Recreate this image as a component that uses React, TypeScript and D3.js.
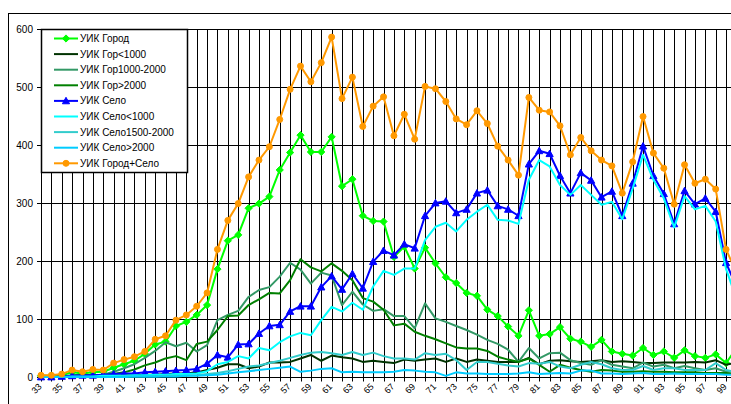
import React from "react";
import * as d3 from "d3";

const categories = [33,34,35,36,37,38,39,40,41,42,43,44,45,46,47,48,49,50,51,52,53,54,55,56,57,58,59,60,61,62,63,64,65,66,67,68,69,70,71,72,73,74,75,76,77,78,79,80,81,82,83,84,85,86,87,88,89,90,91,92,93,94,95,96,97,98,99,100];
const tickLabels = ["33","35","37","39","41","43","45","47","49","51","53","55","57","59","61","63","65","67","69","71","73","75","77","79","81","83","85","87","89","91","93","95","97","99"];
const yTicks = [0,100,200,300,400,500,600];

const gorod = [2,2,3,8,6,8,9,16,22,28,40,56,61,88,95,107,124,186,235,245,291,299,311,357,387,417,388,388,414,329,341,278,269,268,207,225,187,223,196,172,162,145,140,116,105,87,71,115,71,74,86,66,61,52,64,44,40,37,50,38,44,33,46,36,33,39,24,50];
const gor1000 = [0,0,0,1,2,1,2,2,3,3,4,4,5,6,6,8,12,16,22,22,15,18,25,25,26,32,38,28,37,34,32,26,28,26,24,30,28,30,32,26,32,26,30,28,26,26,26,33,22,28,29,27,26,27,29,26,27,26,24,24,25,25,25,26,25,29,21,25];
const gor1000_2000 = [0,0,1,3,4,3,4,9,15,22,33,45,60,53,59,44,55,98,107,114,138,150,155,173,197,185,161,180,175,124,147,125,114,117,105,105,84,127,101,95,88,81,73,64,57,47,26,50,32,41,42,29,24,21,29,21,18,15,25,18,21,15,19,15,12,15,9,10];
const gor2000 = [0,0,0,2,3,2,3,5,8,13,20,25,32,36,29,57,61,81,105,106,124,134,145,144,167,203,189,182,196,183,167,136,130,116,89,92,78,71,65,58,51,49,49,45,35,30,26,32,21,9,21,16,12,9,12,11,9,9,10,9,9,8,8,8,7,7,7,5];
const selo = [0,0,1,2,3,3,4,5,6,6,8,9,10,11,12,14,23,38,34,56,57,75,88,90,113,122,122,155,174,151,178,153,199,218,210,229,222,278,300,303,283,289,317,322,295,289,278,367,390,385,347,317,352,339,310,320,278,334,398,347,316,264,321,298,308,285,197,155];
const selo1000 = [0,0,0,1,1,1,2,2,2,3,3,4,4,5,5,6,10,22,26,36,32,50,46,60,70,76,72,98,121,113,128,116,156,183,176,187,187,236,259,266,251,271,285,297,271,270,264,340,374,363,331,314,331,314,297,302,272,325,383,340,308,258,312,289,295,268,186,135];
const selo1500_2000 = [0,0,0,0,0,0,0,0,1,1,1,1,2,2,2,3,5,7,10,14,18,20,24,28,33,38,42,43,41,38,43,38,42,36,32,32,30,41,38,40,29,12,26,26,23,20,18,24,23,26,18,15,21,26,22,15,12,12,19,12,15,15,12,12,12,24,12,8];
const selo2000 = [0,0,0,0,0,0,0,0,0,1,1,1,1,1,2,2,3,4,6,8,10,12,14,16,18,9,11,14,15,8,9,8,8,8,9,12,11,9,8,2,8,6,6,5,5,5,6,8,5,6,7,6,11,11,6,6,5,6,7,5,5,6,5,5,5,5,4,4];
const gorodSelo = [3,3,5,12,9,13,12,24,30,35,44,65,71,98,107,122,145,220,270,299,345,374,397,444,496,536,509,542,586,480,517,432,467,483,416,453,410,501,497,475,445,435,459,437,398,374,348,482,460,457,433,383,413,390,374,364,317,371,449,386,360,298,366,334,341,324,220,180];

const seriesNames = ["УИК Город","УИК Гор<1000","УИК Гор1000-2000","УИК Гор>2000","УИК Село","УИК Село<1000","УИК Село1500-2000","УИК Село>2000","УИК Город+Село"];
const seriesValues = [gorod, gor1000, gor1000_2000, gor2000, selo, selo1000, selo1500_2000, selo2000, gorodSelo];
const seriesColors = ["#00FF00","#003300","#339966","#008000","#0000FF","#00FFFF","#33CCCC","#00CCFF","#FF9900"];
const seriesMarkers = ["diamond","none","none","none","triangle","none","none","none","circle"];

const FONT = "'Liberation Sans', Arial, sans-serif";

function Marker({ type, x, y, color }: { type: string; x: number; y: number; color: string }) {
  if (type === "diamond") {
    const s = 3.6;
    return <path d={`M${x},${y - s}L${x + s},${y}L${x},${y + s}L${x - s},${y}Z`} fill={color} stroke={color} strokeWidth={1} />;
  }
  if (type === "triangle") {
    const s = 3.6;
    return <path d={`M${x},${y - s}L${x + s},${y + s * 0.8}L${x - s},${y + s * 0.8}Z`} fill={color} stroke={color} strokeWidth={1} />;
  }
  if (type === "circle") {
    return <circle cx={x} cy={y} r={3} fill={color} stroke={color} strokeWidth={1} />;
  }
  return null;
}

export default function App() {
  const W = 731, H = 404;
  const x = d3.scaleLinear().domain([33, 100]).range([41, 41 + 67 * 10.38]);
  const y = d3.scaleLinear().domain([0, 600]).range([377, 29]);
  const crisp = (v: number) => Math.round(v) + 0.5;
  const line = d3.line<number>().x((_, i) => x(categories[i])).y((d) => y(d));

  const legendX = 41.5, legendY = 29.5, legendW = 146, legendH = 143;

  return (
    <svg width={W} height={H} style={{ position: "absolute", left: 0, top: 0, background: "#fff" }} fontFamily={FONT}>
      <rect x={0} y={0} width={W} height={H} fill="#fff" />
      {/* chart area border */}
      <rect x={8.5} y={13.5} width={W + 20} height={H + 20} fill="none" stroke="#000" strokeWidth={1} />
      {/* horizontal grid */}
      {yTicks.filter((t) => t > 0).map((t) => (
        <line key={"h" + t} x1={41} x2={W + 10} y1={crisp(y(t))} y2={crisp(y(t))} stroke="#000" strokeWidth={1} />
      ))}
      {/* vertical grid */}
      {categories.map((c) => (
        <line key={"v" + c} x1={crisp(x(c))} x2={crisp(x(c))} y1={crisp(y(600))} y2={crisp(y(0)) + 4} stroke="#000" strokeWidth={1} />
      ))}
      {/* axes */}
      <line x1={crisp(x(33))} x2={crisp(x(33))} y1={crisp(y(600))} y2={crisp(y(0))} stroke="#000" strokeWidth={1} />
      <line x1={41} x2={W + 10} y1={crisp(y(0))} y2={crisp(y(0))} stroke="#000" strokeWidth={1} />
      {yTicks.map((t) => (
        <g key={"yt" + t}>
          <line x1={37} x2={41} y1={crisp(y(t))} y2={crisp(y(t))} stroke="#000" strokeWidth={1} />
          <text x={33} y={y(t)} dy="0.35em" textAnchor="end" fontSize={10} fill="#000">{t}</text>
        </g>
      ))}
      {tickLabels.map((lab) => {
        const cx = x(+lab);
        return (
          <text key={"xl" + lab} transform={`translate(${cx - 1},${385}) rotate(-45)`} textAnchor="end" dy="0.35em" fontSize={9} fill="#000">{lab}</text>
        );
      })}
      {/* series */}
      {seriesValues.map((vals, si) => (
        <g key={"s" + si}>
          <path d={line(vals) || ""} fill="none" stroke={seriesColors[si]} strokeWidth={2} strokeLinejoin="round" />
          {seriesMarkers[si] !== "none" && vals.map((v, i) => (
            <Marker key={i} type={seriesMarkers[si]} x={x(categories[i])} y={y(v)} color={seriesColors[si]} />
          ))}
        </g>
      ))}
      {/* legend */}
      <rect x={legendX} y={legendY} width={legendW} height={legendH} fill="#fff" stroke="#000" strokeWidth={1.5} />
      {seriesNames.map((name, i) => {
        const ly = 38.5 + i * 15.6;
        return (
          <g key={"lg" + i}>
            <line x1={54} x2={78} y1={ly} y2={ly} stroke={seriesColors[i]} strokeWidth={2} />
            <Marker type={seriesMarkers[i]} x={66} y={ly} color={seriesColors[i]} />
            <text x={80} y={ly} dy="0.35em" fontSize={10} fill="#000">{name}</text>
          </g>
        );
      })}
    </svg>
  );
}
